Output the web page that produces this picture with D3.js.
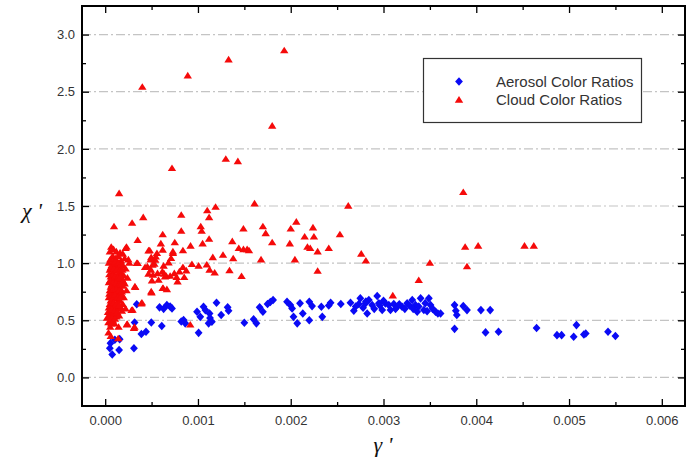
<!DOCTYPE html>
<html>
<head>
<meta charset="utf-8">
<script src="https://cdn.jsdelivr.net/npm/d3@7/dist/d3.min.js"></script>
<style>
  html, body { margin: 0; padding: 0; background: #fff; }
  svg { display: block; }
  .tick text { font-family: "Liberation Sans", Arial, sans-serif; font-size: 13px; fill: #333; }
</style>
</head>
<body>
<svg id="chart" width="688" height="463"></svg>
<script>
// Tick values shown on each axis
const xTickValues = [0, 0.001, 0.002, 0.003, 0.004, 0.005, 0.006];
const xTickLabels = ["0.000", "0.001", "0.002", "0.003", "0.004", "0.005", "0.006"];
const yTickValues = [0, 0.5, 1.0, 1.5, 2.0, 2.5, 3.0];
const yTickLabels = ["0.0", "0.5", "1.0", "1.5", "2.0", "2.5", "3.0"];

// Series names (legend order)
const seriesNames = ["Aerosol Color Ratios", "Cloud Color Ratios"];

// Aerosol colour ratios: [gamma', chi']
const aerosol = [
  [0.000076, 0.20], [0.000050, 0.255], [0.000057, 0.30], [0.000104, 0.33], [0.000150, 0.24],
  [0.000156, 0.335], [0.000310, 0.255], [0.000317, 0.48], [0.000340, 0.64], [0.000390, 0.38],
  [0.000440, 0.40], [0.000497, 0.48], [0.000610, 0.45], [0.000586, 0.613], [0.000665, 0.633],
  [0.000720, 0.604], [0.000630, 0.60], [0.000700, 0.62], [0.000845, 0.502], [0.000863, 0.473],
  [0.000820, 0.49], [0.000990, 0.575], [0.001025, 0.53], [0.001060, 0.618], [0.001080, 0.589],
  [0.001007, 0.39], [0.001125, 0.56], [0.001130, 0.519], [0.001150, 0.487], [0.001115, 0.473],
  [0.001200, 0.653], [0.001250, 0.546], [0.001320, 0.613], [0.001330, 0.583], [0.001500, 0.478],
  [0.001600, 0.508], [0.001630, 0.473], [0.001665, 0.613], [0.001700, 0.575], [0.001750, 0.642],
  [0.001810, 0.677], [0.001780, 0.66], [0.001960, 0.662], [0.001996, 0.633], [0.002015, 0.604],
  [0.002030, 0.53], [0.002070, 0.473], [0.002100, 0.648], [0.002130, 0.56], [0.002200, 0.662],
  [0.002230, 0.624], [0.002200, 0.50], [0.002330, 0.618], [0.002340, 0.53], [0.002430, 0.653],
  [0.002410, 0.63], [0.002540, 0.642], [0.002644, 0.654], [0.002680, 0.584], [0.002734, 0.642],
  [0.002750, 0.692], [0.002806, 0.648], [0.002824, 0.56], [0.002842, 0.677], [0.002878, 0.633],
  [0.002932, 0.712], [0.002950, 0.648], [0.002986, 0.59], [0.003020, 0.648], [0.003057, 0.633],
  [0.003075, 0.59], [0.003111, 0.642], [0.003147, 0.618], [0.003200, 0.618], [0.003255, 0.648],
  [0.003310, 0.677], [0.003345, 0.633], [0.003363, 0.575], [0.003400, 0.692], [0.003435, 0.59],
  [0.003489, 0.692], [0.003507, 0.633], [0.003561, 0.575], [0.003586, 0.56], [0.002700, 0.62],
  [0.002780, 0.61], [0.002900, 0.60], [0.003000, 0.67], [0.003130, 0.60], [0.003230, 0.60],
  [0.003280, 0.63], [0.003380, 0.62], [0.003450, 0.65], [0.003530, 0.60], [0.002810, 0.665],
  [0.002960, 0.63], [0.003170, 0.64], [0.003320, 0.60], [0.003470, 0.58], [0.003615, 0.56],
  [0.003766, 0.633], [0.003780, 0.583], [0.003790, 0.546], [0.003860, 0.624], [0.003900, 0.589],
  [0.004050, 0.589], [0.004150, 0.589], [0.003766, 0.425], [0.004100, 0.394], [0.004240, 0.40],
  [0.004650, 0.432], [0.004870, 0.37], [0.004920, 0.37], [0.005050, 0.356], [0.005080, 0.458],
  [0.005160, 0.376], [0.005180, 0.385], [0.005420, 0.40], [0.005500, 0.362]
];

// Cloud colour ratios: [gamma', chi']
const cloud = [
  [0.001930, 2.86], [0.001330, 2.78], [0.000890, 2.64], [0.000400, 2.54], [0.001800, 2.20],
  [0.000720, 1.83], [0.001300, 1.91], [0.001430, 1.89], [0.000150, 1.61], [0.003860, 1.62],
  [0.001610, 1.52], [0.002620, 1.50], [0.001190, 1.49], [0.001100, 1.46], [0.001120, 1.40],
  [0.000820, 1.42], [0.000410, 1.40], [0.000290, 1.35], [0.000095, 1.32], [0.001030, 1.32],
  [0.001040, 1.28], [0.000620, 1.25], [0.000820, 1.28], [0.001700, 1.32], [0.001490, 1.30],
  [0.001730, 1.26], [0.002060, 1.36], [0.002000, 1.30], [0.002240, 1.31], [0.002150, 1.23],
  [0.002250, 1.23], [0.002530, 1.25], [0.000350, 1.20], [0.000750, 1.18], [0.001120, 1.21],
  [0.001370, 1.19], [0.001800, 1.18], [0.001990, 1.17], [0.001050, 1.17], [0.000920, 1.15],
  [0.000600, 1.17], [0.000620, 1.115], [0.000480, 1.11], [0.000220, 1.13], [0.001440, 1.13],
  [0.001490, 1.12], [0.001530, 1.12], [0.001550, 1.11], [0.002180, 1.14], [0.002210, 1.13],
  [0.002290, 1.10], [0.002410, 1.13], [0.003880, 1.14], [0.004020, 1.15], [0.004520, 1.15],
  [0.004620, 1.15], [0.003900, 0.97], [0.003500, 1.00], [0.003380, 0.85], [0.003100, 0.715],
  [0.002760, 1.08], [0.002810, 1.02], [0.002290, 0.93], [0.002045, 1.03], [0.001680, 1.03],
  [0.001470, 0.885], [0.001340, 0.935], [0.001180, 0.915], [0.001270, 1.07], [0.001160, 1.05],
  [0.001380, 1.04], [0.001095, 0.985], [0.001125, 0.94], [0.001007, 0.975], [0.000935, 0.99],
  [0.000917, 0.46], [0.000838, 1.11], [0.000730, 1.086], [0.000710, 1.042], [0.000683, 1.004],
  [0.000630, 0.975], [0.000558, 1.086], [0.000540, 1.027], [0.000530, 0.993], [0.000838, 0.963],
  [0.000800, 0.925], [0.000874, 0.934], [0.000852, 0.876], [0.000780, 0.837], [0.000770, 0.876],
  [0.000637, 0.905], [0.000658, 0.887], [0.000700, 0.887], [0.000745, 0.91], [0.000564, 0.91],
  [0.000575, 0.852], [0.000515, 0.896], [0.000504, 0.846], [0.000493, 0.94], [0.000620, 0.78],
  [0.000665, 0.77], [0.000500, 0.74], [0.000510, 0.983], [0.000490, 1.03], [0.000545, 1.056],
  [0.000455, 0.969], [0.000340, 0.998], [0.000320, 0.794], [0.000284, 0.587], [0.000390, 0.645],
  [0.000310, 0.429], [0.000237, 0.467], [0.000140, 0.34], [0.000467, 1.109], [0.000496, 1.05],
  [0.000350, 0.998], [0.000430, 0.963], [0.000467, 0.905], [0.000324, 0.788], [0.000496, 0.75],
  [0.000396, 0.653], [0.000295, 0.589], [0.000616, 0.925], [0.000644, 0.88], [0.000625, 0.78],
  [0.000730, 1.10],
  // dense group close to gamma' = 0
  [0.000065, 1.14], [0.000090, 1.12], [0.000120, 1.10], [0.000160, 1.09], [0.000190, 1.08],
  [0.000230, 1.14], [0.000250, 1.03], [0.000260, 1.00], [0.000050, 1.10], [0.000080, 1.06],
  [0.000110, 1.04], [0.000140, 1.06], [0.000170, 1.02], [0.000210, 1.04], [0.000040, 1.00],
  [0.000070, 0.98], [0.000100, 0.99], [0.000130, 0.97], [0.000160, 0.96], [0.000190, 0.98],
  [0.000220, 0.95], [0.000050, 0.94], [0.000080, 0.92], [0.000110, 0.93], [0.000140, 0.90],
  [0.000170, 0.91], [0.000200, 0.89], [0.000240, 0.87], [0.000060, 0.88], [0.000090, 0.86],
  [0.000120, 0.85], [0.000150, 0.84], [0.000180, 0.86], [0.000210, 0.82], [0.000040, 0.83],
  [0.000070, 0.81], [0.000100, 0.80], [0.000130, 0.79], [0.000160, 0.78], [0.000190, 0.80],
  [0.000230, 0.76], [0.000050, 0.76], [0.000080, 0.74], [0.000110, 0.75], [0.000140, 0.72],
  [0.000170, 0.73], [0.000200, 0.70], [0.000040, 0.70], [0.000070, 0.68], [0.000100, 0.69],
  [0.000130, 0.66], [0.000160, 0.67], [0.000190, 0.64], [0.000050, 0.64], [0.000080, 0.62],
  [0.000110, 0.61], [0.000140, 0.60], [0.000170, 0.61], [0.000220, 0.60], [0.000030, 0.57],
  [0.000060, 0.56], [0.000090, 0.55], [0.000120, 0.53], [0.000150, 0.54], [0.000054, 0.44],
  [0.000036, 0.39], [0.000060, 0.36], [0.000144, 0.44], [0.000234, 0.46], [0.000316, 0.44],
  [0.000080, 0.50], [0.000100, 0.47], [0.000020, 0.52],
  [0.000055, 1.03], [0.000085, 1.01], [0.000115, 1.02], [0.000145, 1.00], [0.000175, 0.99],
  [0.000060, 0.96], [0.000095, 0.95], [0.000125, 0.94], [0.000155, 0.93], [0.000185, 0.94],
  [0.000045, 0.90], [0.000075, 0.89], [0.000105, 0.88], [0.000135, 0.87], [0.000165, 0.88],
  [0.000195, 0.84], [0.000055, 0.85], [0.000085, 0.83], [0.000115, 0.82], [0.000145, 0.81],
  [0.000175, 0.82], [0.000060, 0.79], [0.000090, 0.77], [0.000120, 0.77], [0.000150, 0.76],
  [0.000180, 0.75], [0.000045, 0.73], [0.000075, 0.71], [0.000105, 0.72], [0.000135, 0.70],
  [0.000165, 0.70], [0.000060, 0.67], [0.000090, 0.65], [0.000120, 0.64], [0.000150, 0.63],
  [0.000040, 0.61], [0.000070, 0.59], [0.000100, 0.58], [0.000130, 0.57], [0.000180, 0.58],
  [0.000045, 0.53], [0.000075, 0.52], [0.000105, 0.51], [0.000035, 0.48], [0.000065, 0.47]
];

const svg = d3.select("#chart");

const x = d3.scaleLinear().domain([-0.00025, 0.00625]).range([82, 685]);
const y = d3.scaleLinear().domain([-0.25, 3.25]).range([406, 6]);

const [x0, x1] = x.range();
const [y0, y1] = y.range();

// Dash-dot horizontal grid
svg.append("g")
  .selectAll("line")
  .data(yTickValues)
  .join("line")
  .attr("x1", x0).attr("x2", x1)
  .attr("y1", d => y(d)).attr("y2", d => y(d))
  .attr("stroke", "#c4c4c4")
  .attr("stroke-width", 1.2)
  .attr("stroke-dasharray", "9,3,2,3");

const xMinor = xTickValues.slice(0, -1).map(v => v + 0.0005);
const yMinor = yTickValues.map(v => v + 0.25).filter(v => v < 3.25);

const labelX = d => xTickLabels[xTickValues.indexOf(d)];
const labelY = d => yTickLabels[yTickValues.indexOf(d)];

function cleanAxis(g) {
  g.select(".domain").remove();
  g.selectAll(".tick line").attr("stroke", "#000").attr("stroke-width", 1.3);
}

// Bottom axis with labels
svg.append("g").attr("transform", `translate(0,${y0})`)
  .call(d3.axisBottom(x).tickValues(xTickValues).tickFormat(labelX).tickSize(-7).tickPadding(10))
  .call(cleanAxis);
svg.append("g").attr("transform", `translate(0,${y0})`)
  .call(d3.axisBottom(x).tickValues(xMinor).tickFormat("").tickSize(-4))
  .call(cleanAxis);

// Top axis (ticks only)
svg.append("g").attr("transform", `translate(0,${y1})`)
  .call(d3.axisTop(x).tickValues(xTickValues).tickFormat("").tickSize(-7))
  .call(cleanAxis);
svg.append("g").attr("transform", `translate(0,${y1})`)
  .call(d3.axisTop(x).tickValues(xMinor).tickFormat("").tickSize(-4))
  .call(cleanAxis);

// Left axis with labels
svg.append("g").attr("transform", `translate(${x0},0)`)
  .call(d3.axisLeft(y).tickValues(yTickValues).tickFormat(labelY).tickSize(-7).tickPadding(7))
  .call(cleanAxis);
svg.append("g").attr("transform", `translate(${x0},0)`)
  .call(d3.axisLeft(y).tickValues(yMinor).tickFormat("").tickSize(-4))
  .call(cleanAxis);

// Right axis (ticks only)
svg.append("g").attr("transform", `translate(${x1},0)`)
  .call(d3.axisRight(y).tickValues(yTickValues).tickFormat("").tickSize(-7))
  .call(cleanAxis);
svg.append("g").attr("transform", `translate(${x1},0)`)
  .call(d3.axisRight(y).tickValues(yMinor).tickFormat("").tickSize(-4))
  .call(cleanAxis);

// Plot frame
svg.append("rect")
  .attr("x", x0).attr("y", y1)
  .attr("width", x1 - x0).attr("height", y0 - y1)
  .attr("fill", "none").attr("stroke", "#000").attr("stroke-width", 2);

// Marker shapes
const diamondPath = "M0,-4.3L3.9,0L0,4.3L-3.9,0Z";
const trianglePath = "M0,-3.9L4.2,2.7L-4.2,2.7Z";
const blue = "#0a0af5";
const red = "#f50a0a";

const plot = svg.append("g");

plot.selectAll("path.aerosol")
  .data(aerosol)
  .join("path")
  .attr("class", "aerosol")
  .attr("d", diamondPath)
  .attr("transform", d => `translate(${x(d[0])},${y(d[1])})`)
  .attr("fill", blue);

plot.selectAll("path.cloud")
  .data(cloud)
  .join("path")
  .attr("class", "cloud")
  .attr("d", trianglePath)
  .attr("transform", d => `translate(${x(d[0])},${y(d[1])})`)
  .attr("fill", red);

// Axis titles
svg.append("text")
  .attr("x", 32).attr("y", 218)
  .attr("text-anchor", "middle")
  .attr("font-family", "'Liberation Serif', 'Times New Roman', serif")
  .attr("font-style", "italic")
  .attr("font-size", 22)
  .attr("fill", "#111")
  .text("χ '");

svg.append("text")
  .attr("x", 383).attr("y", 452)
  .attr("text-anchor", "middle")
  .attr("font-family", "'Liberation Serif', 'Times New Roman', serif")
  .attr("font-style", "italic")
  .attr("font-size", 22)
  .attr("fill", "#111")
  .text("γ '");

// Legend
const legend = svg.append("g");
legend.append("rect")
  .attr("x", 423.5).attr("y", 58.5)
  .attr("width", 218).attr("height", 64)
  .attr("fill", "#fff").attr("stroke", "#333").attr("stroke-width", 1.2);

const legendRows = [
  { name: seriesNames[0], shape: diamondPath, color: blue, cy: 81.5 },
  { name: seriesNames[1], shape: trianglePath, color: red, cy: 100 }
];
legendRows.forEach(r => {
  legend.append("path")
    .attr("d", r.shape)
    .attr("transform", `translate(459,${r.cy})`)
    .attr("fill", r.color);
  legend.append("text")
    .attr("x", 496).attr("y", r.cy)
    .attr("dy", "0.36em")
    .attr("font-family", "'Liberation Sans', Arial, sans-serif")
    .attr("font-size", 15)
    .attr("fill", "#333")
    .text(r.name);
});
</script>
</body>
</html>
